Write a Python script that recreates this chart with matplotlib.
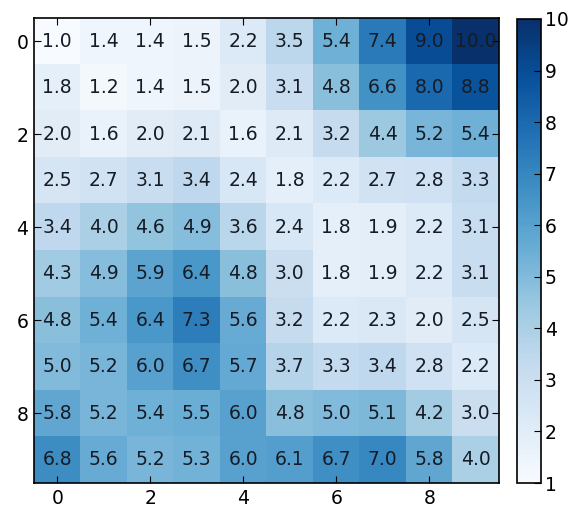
import numpy as np
import matplotlib
matplotlib.use("Agg")
import matplotlib.pyplot as plt

# grid values, row by row
row0 = [1.0, 1.4, 1.4, 1.5, 2.2, 3.5, 5.4, 7.4, 9.0, 10.0]
row1 = [1.8, 1.2, 1.4, 1.5, 2.0, 3.1, 4.8, 6.6, 8.0, 8.8]
row2 = [2.0, 1.6, 2.0, 2.1, 1.6, 2.1, 3.2, 4.4, 5.2, 5.4]
row3 = [2.5, 2.7, 3.1, 3.4, 2.4, 1.8, 2.2, 2.7, 2.8, 3.3]
row4 = [3.4, 4.0, 4.6, 4.9, 3.6, 2.4, 1.8, 1.9, 2.2, 3.1]
row5 = [4.3, 4.9, 5.9, 6.4, 4.8, 3.0, 1.8, 1.9, 2.2, 3.1]
row6 = [4.8, 5.4, 6.4, 7.3, 5.6, 3.2, 2.2, 2.3, 2.0, 2.5]
row7 = [5.0, 5.2, 6.0, 6.7, 5.7, 3.7, 3.3, 3.4, 2.8, 2.2]
row8 = [5.8, 5.2, 5.4, 5.5, 6.0, 4.8, 5.0, 5.1, 4.2, 3.0]
row9 = [6.8, 5.6, 5.2, 5.3, 6.0, 6.1, 6.7, 7.0, 5.8, 4.0]

ticks = [0, 2, 4, 6, 8]
cbar_ticks = [1, 2, 3, 4, 5, 6, 7, 8, 9, 10]

grid = np.array([row0, row1, row2, row3, row4, row5, row6, row7, row8, row9])

plt.rcParams['font.family'] = ['DejaVu Sans']
plt.rcParams['xtick.direction'] = 'in'
plt.rcParams['ytick.direction'] = 'in'

fig = plt.figure(figsize=(5.8, 5.08), dpi=100)
ax = fig.add_axes([0.0586, 0.0492, 0.8017, 0.9154])
cax = fig.add_axes([0.891, 0.0492, 0.0414, 0.9134])

im = ax.imshow(grid, cmap='Blues', vmin=1, vmax=10, interpolation='nearest', aspect='auto')

for i in range(grid.shape[0]):
    for j in range(grid.shape[1]):
        ax.text(j, i, "%.1f" % grid[i, j], ha='center', va='center',
                fontsize=13.5, color='#161c26')

ax.set_xticks(ticks)
ax.set_yticks(ticks)
ax.tick_params(top=True, right=True, labelsize=13.5, length=5, width=0.8, pad=4)
for s in ax.spines.values():
    s.set_linewidth(1.2)

cb = fig.colorbar(im, cax=cax, ticks=cbar_ticks)
cb.ax.tick_params(direction='in', labelsize=13.5, length=5, width=0.8, pad=3)
cb.outline.set_linewidth(1.2)

fig.savefig("out.png", dpi=100)
